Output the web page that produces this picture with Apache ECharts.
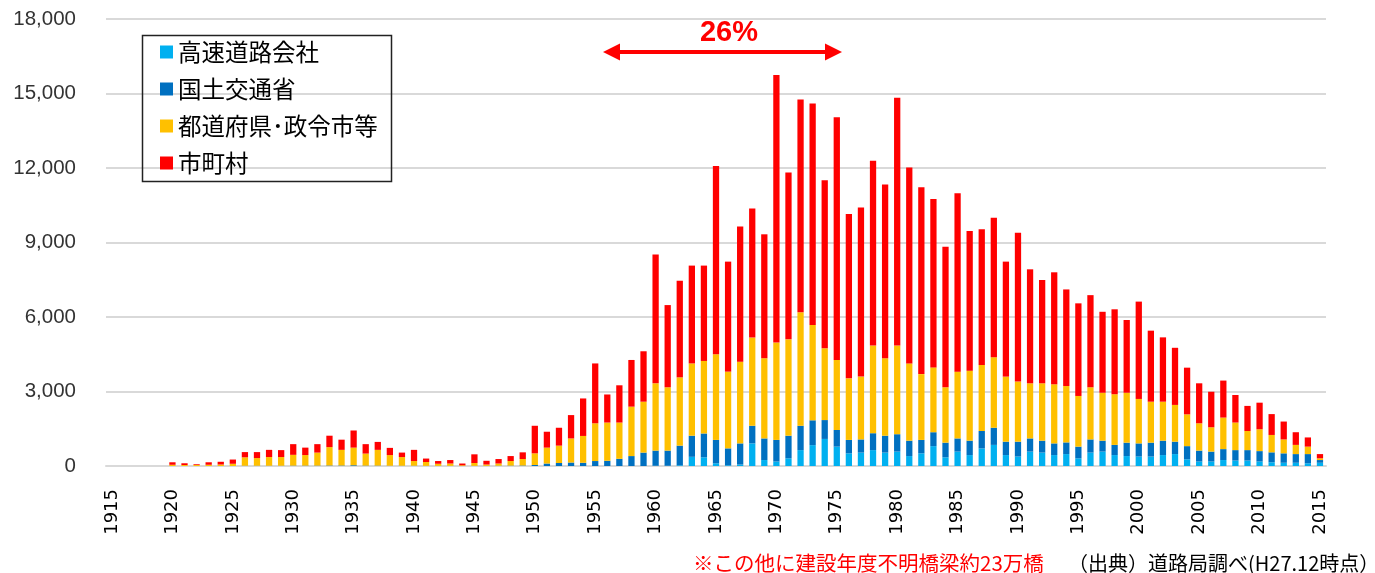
<!DOCTYPE html>
<html>
<head>
<meta charset="utf-8">
<script src="https://cdn.jsdelivr.net/npm/echarts@6/dist/echarts.min.js"></script>
<style>
html,body{margin:0;padding:0;background:#fff;}
#chart{width:1375px;height:573px;}
</style>
</head>
<body>
<div id="chart"></div>
<script>
// Years 1915..2015
var years = [];
for (var y = 1915; y <= 2015; y++) { years.push(String(y)); }

var seriesNames = ['高速道路会社', '国土交通省', '都道府県･政令市等', '市町村'];

// 高速道路会社
var expressway = [
  0,0,0,0,0,
  0,0,0,0,0,0,0,0,0,0,
  0,0,0,0,0,0,0,0,0,0,
  0,0,0,0,0,0,0,0,0,0,
  0,0,0,0,0,0,0,0,0,0,
  10,10,30,370,350,110,30,60,910,240,
  180,310,640,840,1090,780,510,540,640,540,
  580,400,510,800,350,580,440,710,850,440,
  380,580,540,440,480,310,540,580,440,400,
  380,380,440,480,270,180,180,240,220,220,
  180,150,130,130,110,130
];

// 国土交通省
var mlit = [
  0,0,0,0,0,
  0,0,0,0,0,0,10,10,10,10,
  15,15,15,20,20,30,15,15,10,10,
  10,5,5,5,0,5,5,10,15,20,
  40,100,120,140,130,200,210,290,400,540,
  610,610,790,850,960,940,680,850,710,870,
  870,910,980,1000,760,670,540,530,680,680,
  700,620,540,560,590,530,580,700,690,540,
  600,530,480,470,470,470,530,440,410,540,
  530,560,580,500,530,440,400,440,420,420,
  420,400,380,350,370,110
];

// 都道府県・政令市等
var prefecture = [
  0,0,0,0,0,
  50,40,40,50,60,90,340,310,350,350,
  435,425,525,740,630,710,485,635,430,350,
  190,155,85,95,30,115,55,90,185,260,
  470,640,700,970,1080,1520,1540,1460,1990,2050,
  2710,2550,2750,2910,2920,3450,3090,3290,3550,3230,
  3920,3880,4570,3840,2890,2820,2480,2530,3530,3120,
  3570,3110,2650,2610,2230,2690,2820,2660,2840,2620,
  2420,2220,2310,2380,2270,2040,2100,1930,2040,2010,
  1790,1650,1570,1480,1280,1100,980,1270,1110,770,
  880,700,560,370,300,70
];

// 市町村
var municipality = [
  0,0,0,0,0,
  100,70,30,100,110,170,210,240,290,280,
  430,300,340,460,410,690,380,320,290,180,
  450,140,110,140,70,350,150,180,200,270,
  1110,640,720,940,1510,2410,1130,1500,1880,2030,
  5190,3310,3890,3940,3840,7580,4430,5440,5200,4990,
  10770,6720,8570,8920,6770,9770,6620,6810,7440,7000,
  9980,7890,7520,6780,5660,7180,5620,5460,5620,4630,
  5990,4590,4160,4510,3890,3730,3710,3260,3420,2930,
  3920,2860,2590,2300,1880,1610,1430,1490,1110,1010,
  1070,840,720,510,370,170
];

var yTicks = [0, 3000, 6000, 9000, 12000, 15000, 18000];
var colors = ['#00B0F0', '#0070C0', '#FFC000', '#FF0000'];
var dataSets = [expressway, mlit, prefecture, municipality];

function addCommas(v) {
  return String(v).replace(/\B(?=(\d{3})+(?!\d))/g, ',');
}

var chart = echarts.init(document.getElementById('chart'), null, {renderer: 'canvas'});

var series = seriesNames.map(function (name, i) {
  return {
    name: name,
    type: 'bar',
    stack: 'total',
    barWidth: '52%',
    itemStyle: {color: colors[i]},
    data: dataSets[i]
  };
});

var option = {
  animation: false,
  color: colors,
  grid: {left: 106, right: 49, top: 19, bottom: 107, containLabel: false},
  legend: {
    orient: 'vertical',
    left: 160,
    top: 39,
    padding: 0,
    itemWidth: 13,
    itemHeight: 13,
    itemGap: 11,
    icon: 'rect',
    data: seriesNames,
    textStyle: {
      fontFamily: 'Noto Sans CJK JP',
      fontSize: 23.5,
      lineHeight: 26,
      color: '#000'
    }
  },
  xAxis: {
    type: 'category',
    data: years,
    boundaryGap: true,
    axisTick: {show: false},
    axisLine: {lineStyle: {color: '#d9d9d9', width: 2}},
    axisLabel: {
      interval: 4,
      rotate: 90,
      margin: 23,
      fontFamily: 'DejaVu Sans',
      fontSize: 18,
      color: '#000'
    }
  },
  yAxis: {
    type: 'value',
    min: 0,
    max: yTicks[yTicks.length - 1],
    interval: 3000,
    axisLine: {show: false},
    axisTick: {show: false},
    splitLine: {lineStyle: {color: '#d9d9d9', width: 2}},
    axisLabel: {
      margin: 30,
      fontFamily: 'Liberation Sans',
      fontSize: 20.5,
      color: '#333',
      formatter: function (v) { return addCommas(v); }
    }
  },
  graphic: [
    {
      type: 'rect',
      shape: {x: 142.5, y: 35.5, width: 249, height: 146},
      style: {fill: 'none', stroke: '#222', lineWidth: 1.5},
      z: 100
    },
    {
      type: 'line',
      shape: {x1: 614, y1: 52, x2: 831, y2: 52},
      style: {stroke: '#FF0000', lineWidth: 4},
      z: 100
    },
    {
      type: 'polygon',
      shape: {points: [[603, 52], [620, 43.5], [620, 60.5]]},
      style: {fill: '#FF0000'},
      z: 100
    },
    {
      type: 'polygon',
      shape: {points: [[842, 52], [825, 43.5], [825, 60.5]]},
      style: {fill: '#FF0000'},
      z: 100
    },
    {
      type: 'text',
      x: 729, y: 33,
      style: {
        text: '26%',
        fill: '#FF0000',
        font: 'bold 29px "Liberation Sans"',
        textAlign: 'center',
        textVerticalAlign: 'middle'
      },
      z: 100
    },
    {
      type: 'text',
      x: 693, y: 563,
      style: {
        text: '※この他に建設年度不明橋梁約23万橋',
        fill: '#FF0000',
        font: '20.5px "Noto Sans CJK JP"',
        textAlign: 'left',
        textVerticalAlign: 'middle'
      },
      z: 100
    },
    {
      type: 'text',
      x: 1068, y: 563,
      style: {
        text: '（出典）道路局調べ(H27.12時点）',
        fill: '#000',
        font: '20px "Noto Sans CJK JP"',
        textAlign: 'left',
        textVerticalAlign: 'middle'
      },
      z: 100
    }
  ],
  series: series
};

chart.setOption(option);
</script>
</body>
</html>
